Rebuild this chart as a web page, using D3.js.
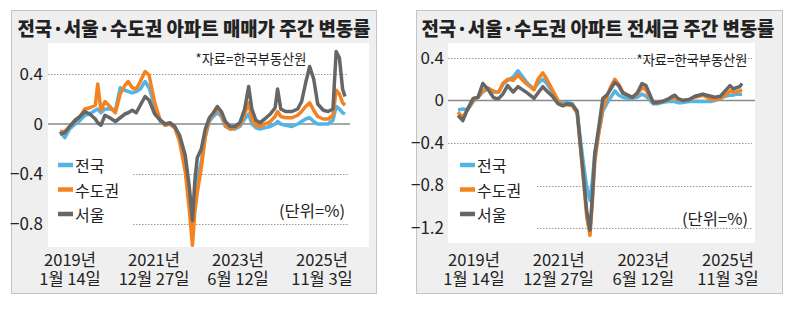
<!DOCTYPE html>
<html>
<head>
<meta charset="utf-8">
<script src="https://cdn.jsdelivr.net/npm/d3@7"></script>
<style>
body { margin: 0; background: #fff; }
text { font-family: "Liberation Sans Narrow", "Noto Sans CJK KR", sans-serif; fill: #222; }
.kr { font-family: "Noto Sans CJK KR", sans-serif; }
</style>
</head>
<body>
<div id="chart"></div>
<script>
// weeks since 2019-01-14 (sample points)
const weeks = [0, 6, 12, 19, 25, 31, 37, 44, 47, 51, 56, 62, 69, 75, 81, 85, 90, 95, 100, 106,
  111, 118, 125, 131, 137, 143, 149, 156, 161, 165, 168, 171, 176, 181, 186, 191, 196, 201, 206, 212,
  218, 224, 230, 235, 239, 244, 249, 255, 262, 268, 271, 275, 281, 289, 296, 301, 306, 311, 316, 321,
  328, 334, 340, 344, 348, 352, 355];

const tickLabels = [["2019년", "1월 14일"], ["2021년", "12월 27일"], ["2023년", "6월 12일"], ["2025년", "11월 3일"]];
const seriesNames = ["전국", "수도권", "서울"];
const seriesColors = ["#52b5e6", "#f58220", "#666666"];

// 매매가 주간 변동률 (%)
const saleNation = [-0.06, -0.11, -0.04, 0.00, 0.03, 0.07, 0.08, 0.11, 0.12, 0.09, 0.12, 0.12, 0.11, 0.29, 0.27, 0.26, 0.25, 0.26, 0.28, 0.34,
  0.29, 0.14, 0.02, -0.01, 0.00, -0.03, -0.12, -0.33, -0.58, -0.85, -0.60, -0.45, -0.30, -0.10, 0.02, 0.06, 0.09, 0.06, -0.02, -0.04,
  -0.04, -0.02, 0.04, 0.08, 0.00, -0.03, -0.04, -0.03, -0.02, 0.00, 0.02, 0.00, -0.01, -0.02, 0.00, 0.02, 0.04, 0.05, 0.02, 0.00,
  0.00, 0.00, 0.03, 0.14, 0.12, 0.09, 0.08];
const saleCapital = [-0.06, -0.06, -0.02, 0.03, 0.06, 0.12, 0.13, 0.15, 0.32, 0.11, 0.18, 0.14, 0.09, 0.24, 0.31, 0.34, 0.29, 0.28, 0.34, 0.42,
  0.39, 0.17, 0.03, -0.01, 0.00, -0.03, -0.14, -0.38, -0.68, -0.97, -0.70, -0.55, -0.35, -0.10, 0.04, 0.08, 0.12, 0.08, -0.01, -0.04,
  -0.03, -0.01, 0.08, 0.17, 0.04, -0.01, -0.02, 0.00, 0.02, 0.06, 0.10, 0.06, 0.05, 0.05, 0.07, 0.10, 0.14, 0.17, 0.11, 0.06,
  0.04, 0.04, 0.07, 0.27, 0.24, 0.17, 0.15];
const saleSeoul = [-0.08, -0.07, -0.02, 0.03, 0.06, 0.10, 0.08, 0.04, 0.01, -0.01, 0.07, 0.05, 0.02, 0.05, 0.08, 0.09, 0.11, 0.09, 0.15, 0.22,
  0.19, 0.08, 0.03, 0.00, 0.01, -0.02, -0.09, -0.25, -0.50, -0.77, -0.45, -0.27, -0.20, -0.04, 0.05, 0.09, 0.14, 0.10, 0.02, -0.02,
  -0.02, 0.01, 0.12, 0.30, 0.12, 0.03, 0.01, 0.04, 0.08, 0.13, 0.28, 0.12, 0.10, 0.10, 0.12, 0.18, 0.33, 0.46, 0.36, 0.16,
  0.11, 0.10, 0.12, 0.58, 0.53, 0.28, 0.22];

// 전세금 주간 변동률 (%)
const rentNation = [-0.09, -0.08, -0.09, -0.01, 0.03, 0.08, 0.11, 0.08, 0.08, 0.08, 0.15, 0.19, 0.22, 0.28, 0.22, 0.18, 0.14, 0.11, 0.16, 0.20,
  0.16, 0.08, 0.00, -0.02, -0.02, -0.03, -0.12, -0.55, -0.82, -0.94, -0.75, -0.50, -0.30, -0.10, -0.03, 0.03, 0.09, 0.05, 0.03, 0.02,
  0.02, 0.03, 0.06, 0.04, 0.01, -0.03, -0.03, -0.02, -0.01, -0.01, -0.01, -0.02, -0.02, -0.01, -0.01, -0.01, -0.01, -0.01, -0.01, 0.00,
  0.02, 0.04, 0.05, 0.05, 0.06, 0.06, 0.06];
const rentCapital = [-0.11, -0.16, -0.08, 0.00, 0.03, 0.09, 0.12, 0.09, 0.08, 0.08, 0.16, 0.20, 0.19, 0.24, 0.19, 0.16, 0.13, 0.10, 0.20, 0.26,
  0.20, 0.10, 0.00, -0.04, -0.04, -0.05, -0.12, -0.68, -1.10, -1.27, -0.95, -0.58, -0.30, -0.08, 0.03, 0.13, 0.20, 0.15, 0.08, 0.05,
  0.03, 0.06, 0.12, 0.10, 0.04, -0.02, -0.02, -0.01, 0.01, 0.02, 0.03, 0.01, 0.00, 0.01, 0.03, 0.04, 0.05, 0.03, 0.01, 0.01,
  0.02, 0.05, 0.09, 0.08, 0.08, 0.09, 0.10];
const rentSeoul = [-0.14, -0.19, -0.08, 0.02, 0.03, 0.16, 0.11, 0.03, 0.02, 0.02, 0.06, 0.14, 0.08, 0.13, 0.10, 0.08, 0.05, 0.02, 0.07, 0.13,
  0.09, 0.04, -0.03, -0.05, -0.03, -0.04, -0.10, -0.65, -1.05, -1.22, -0.90, -0.50, -0.25, 0.02, 0.05, 0.11, 0.17, 0.14, 0.07, 0.05,
  0.03, 0.07, 0.16, 0.14, 0.07, -0.02, -0.02, -0.01, 0.01, 0.04, 0.05, 0.02, 0.00, 0.01, 0.04, 0.05, 0.06, 0.05, 0.04, 0.03,
  0.04, 0.09, 0.14, 0.11, 0.12, 0.13, 0.16];

const saleTicks = [0.4, 0, -0.4, -0.8];
const rentTicks = [0.4, 0, -0.4, -0.8, -1.2];

const svg = d3.select("#chart")
    .append("svg")
    .attr("width", 791)
    .attr("height", 324);

function fmt(v) {
    return v === 0 ? "0" : d3.format(".1f")(v).replace("-", "\u2212");
}

function draw_panel(p) {
    const g = svg.append("g");

    // panel box and white plot area
    g.append("rect")
        .attr("x", p.box[0] + 0.5).attr("y", p.box[1] + 0.5)
        .attr("width", p.box[2]).attr("height", p.box[3])
        .attr("fill", "#efefef").attr("stroke", "#c4c4c4");
    g.append("rect")
        .attr("x", p.plot[0]).attr("y", p.plot[1])
        .attr("width", p.plot[2] - p.plot[0]).attr("height", p.plot[3] - p.plot[1])
        .attr("fill", "#fff");

    g.append("text")
        .attr("class", "kr")
        .attr("x", p.titleX).attr("y", 36)
        .attr("text-anchor", "middle")
        .attr("font-size", 19).attr("font-weight", 900)
        .attr("textLength", 353).attr("lengthAdjust", "spacingAndGlyphs")
        .text(p.title);

    const x = d3.scaleLinear().domain([0, 355]).range(p.xRange);
    const y = d3.scaleLinear().domain(p.yDomain).range(p.yRange);

    // gridlines
    g.selectAll(".grid")
        .data(p.ticks.filter(d => d !== 0))
        .join("line")
        .attr("x1", (d, i) => p.gridStart[i]).attr("x2", p.gridEnd)
        .attr("y1", d => Math.round(y(d)) + 0.5).attr("y2", d => Math.round(y(d)) + 0.5)
        .attr("stroke", "#999").attr("stroke-width", 1)
        .attr("stroke-dasharray", "1.5,1.5");
    g.append("line")
        .attr("x1", p.plot[0]).attr("x2", p.zeroEnd)
        .attr("y1", y(0)).attr("y2", y(0))
        .attr("stroke", "#8a8a8a").attr("stroke-width", 1.5);

    // y axis labels
    const yAxis = d3.axisLeft(y).tickValues(p.ticks).tickFormat(fmt).tickSize(0).tickPadding(0);
    const ya = g.append("g")
        .attr("transform", `translate(${p.yLabelX},0)`)
        .call(yAxis);
    ya.select(".domain").remove();
    ya.selectAll("text").attr("font-size", 17).attr("font-family", null).attr("fill", "#222");

    // x labels (two lines)
    const xl = d3.scalePoint().domain(d3.range(tickLabels.length)).range(p.xLabelRange);
    const lab = g.selectAll(".xlab")
        .data(tickLabels)
        .join("g")
        .attr("transform", (d, i) => `translate(${xl(i)},0)`);
    lab.append("text")
        .attr("text-anchor", "middle").attr("font-size", 16.5)
        .attr("y", 266).text(d => d[0]);
    lab.append("text")
        .attr("text-anchor", "middle").attr("font-size", 16.5)
        .attr("y", 285).text(d => d[1]);

    // lines
    const line = d3.line()
        .x((d, i) => x(weeks[i]))
        .y(d => y(d));
    p.series.forEach(function(s, k) {
        g.append("path")
            .datum(s)
            .attr("fill", "none")
            .attr("stroke", seriesColors[k])
            .attr("stroke-width", 3.5)
            .attr("stroke-linejoin", "round")
            .attr("d", line);
    });

    // legend
    seriesNames.forEach(function(name, k) {
        const ly = p.legendY + k * 24.5;
        g.append("line")
            .attr("x1", p.legendX).attr("x2", p.legendX + 15)
            .attr("y1", ly).attr("y2", ly)
            .attr("stroke", seriesColors[k]).attr("stroke-width", 4.5);
        g.append("text")
            .attr("class", "kr")
            .attr("x", p.legendX + 17).attr("y", ly)
            .attr("dominant-baseline", "central")
            .attr("font-size", 16)
            .text(name);
    });

    g.append("text")
        .attr("class", "kr")
        .attr("x", p.source[0]).attr("y", p.source[1])
        .attr("text-anchor", "middle").attr("dominant-baseline", "central")
        .attr("font-size", 13.5)
        .attr("textLength", 111).attr("lengthAdjust", "spacingAndGlyphs")
        .text("*자료=한국부동산원");
    g.append("text")
        .attr("class", "kr")
        .attr("x", p.unit[0]).attr("y", p.unit[1])
        .attr("text-anchor", "middle").attr("dominant-baseline", "central")
        .attr("font-size", 16)
        .attr("textLength", 66).attr("lengthAdjust", "spacingAndGlyphs")
        .text("(단위=%)");
}

draw_panel({
    title: "전국·서울·수도권 아파트 매매가 주간 변동률",
    box: [11, 10, 365, 283], plot: [48, 43, 369, 247], titleX: 194,
    xRange: [60, 345], yDomain: [-0.8, 0.4], yRange: [224, 74],
    ticks: saleTicks, gridStart: [48, 133, 133], gridEnd: 348, zeroEnd: 350,
    yLabelX: 43, xLabelRange: [70, 322],
    series: [saleNation, saleCapital, saleSeoul],
    legendX: 58, legendY: 165, source: [251, 58], unit: [312, 210]
});

draw_panel({
    title: "전국·서울·수도권 아파트 전세금 주간 변동률",
    box: [416, 10, 366, 283], plot: [448, 43, 755, 243], titleX: 598,
    xRange: [458, 742], yDomain: [-1.2, 0.4], yRange: [228, 58],
    ticks: rentTicks, gridStart: [448, 448, 537, 537], gridEnd: 752, zeroEnd: 755,
    yLabelX: 444, xLabelRange: [474, 728],
    series: [rentNation, rentCapital, rentSeoul],
    legendX: 460, legendY: 165, source: [692, 59], unit: [715, 218]
});
</script>
</body>
</html>
